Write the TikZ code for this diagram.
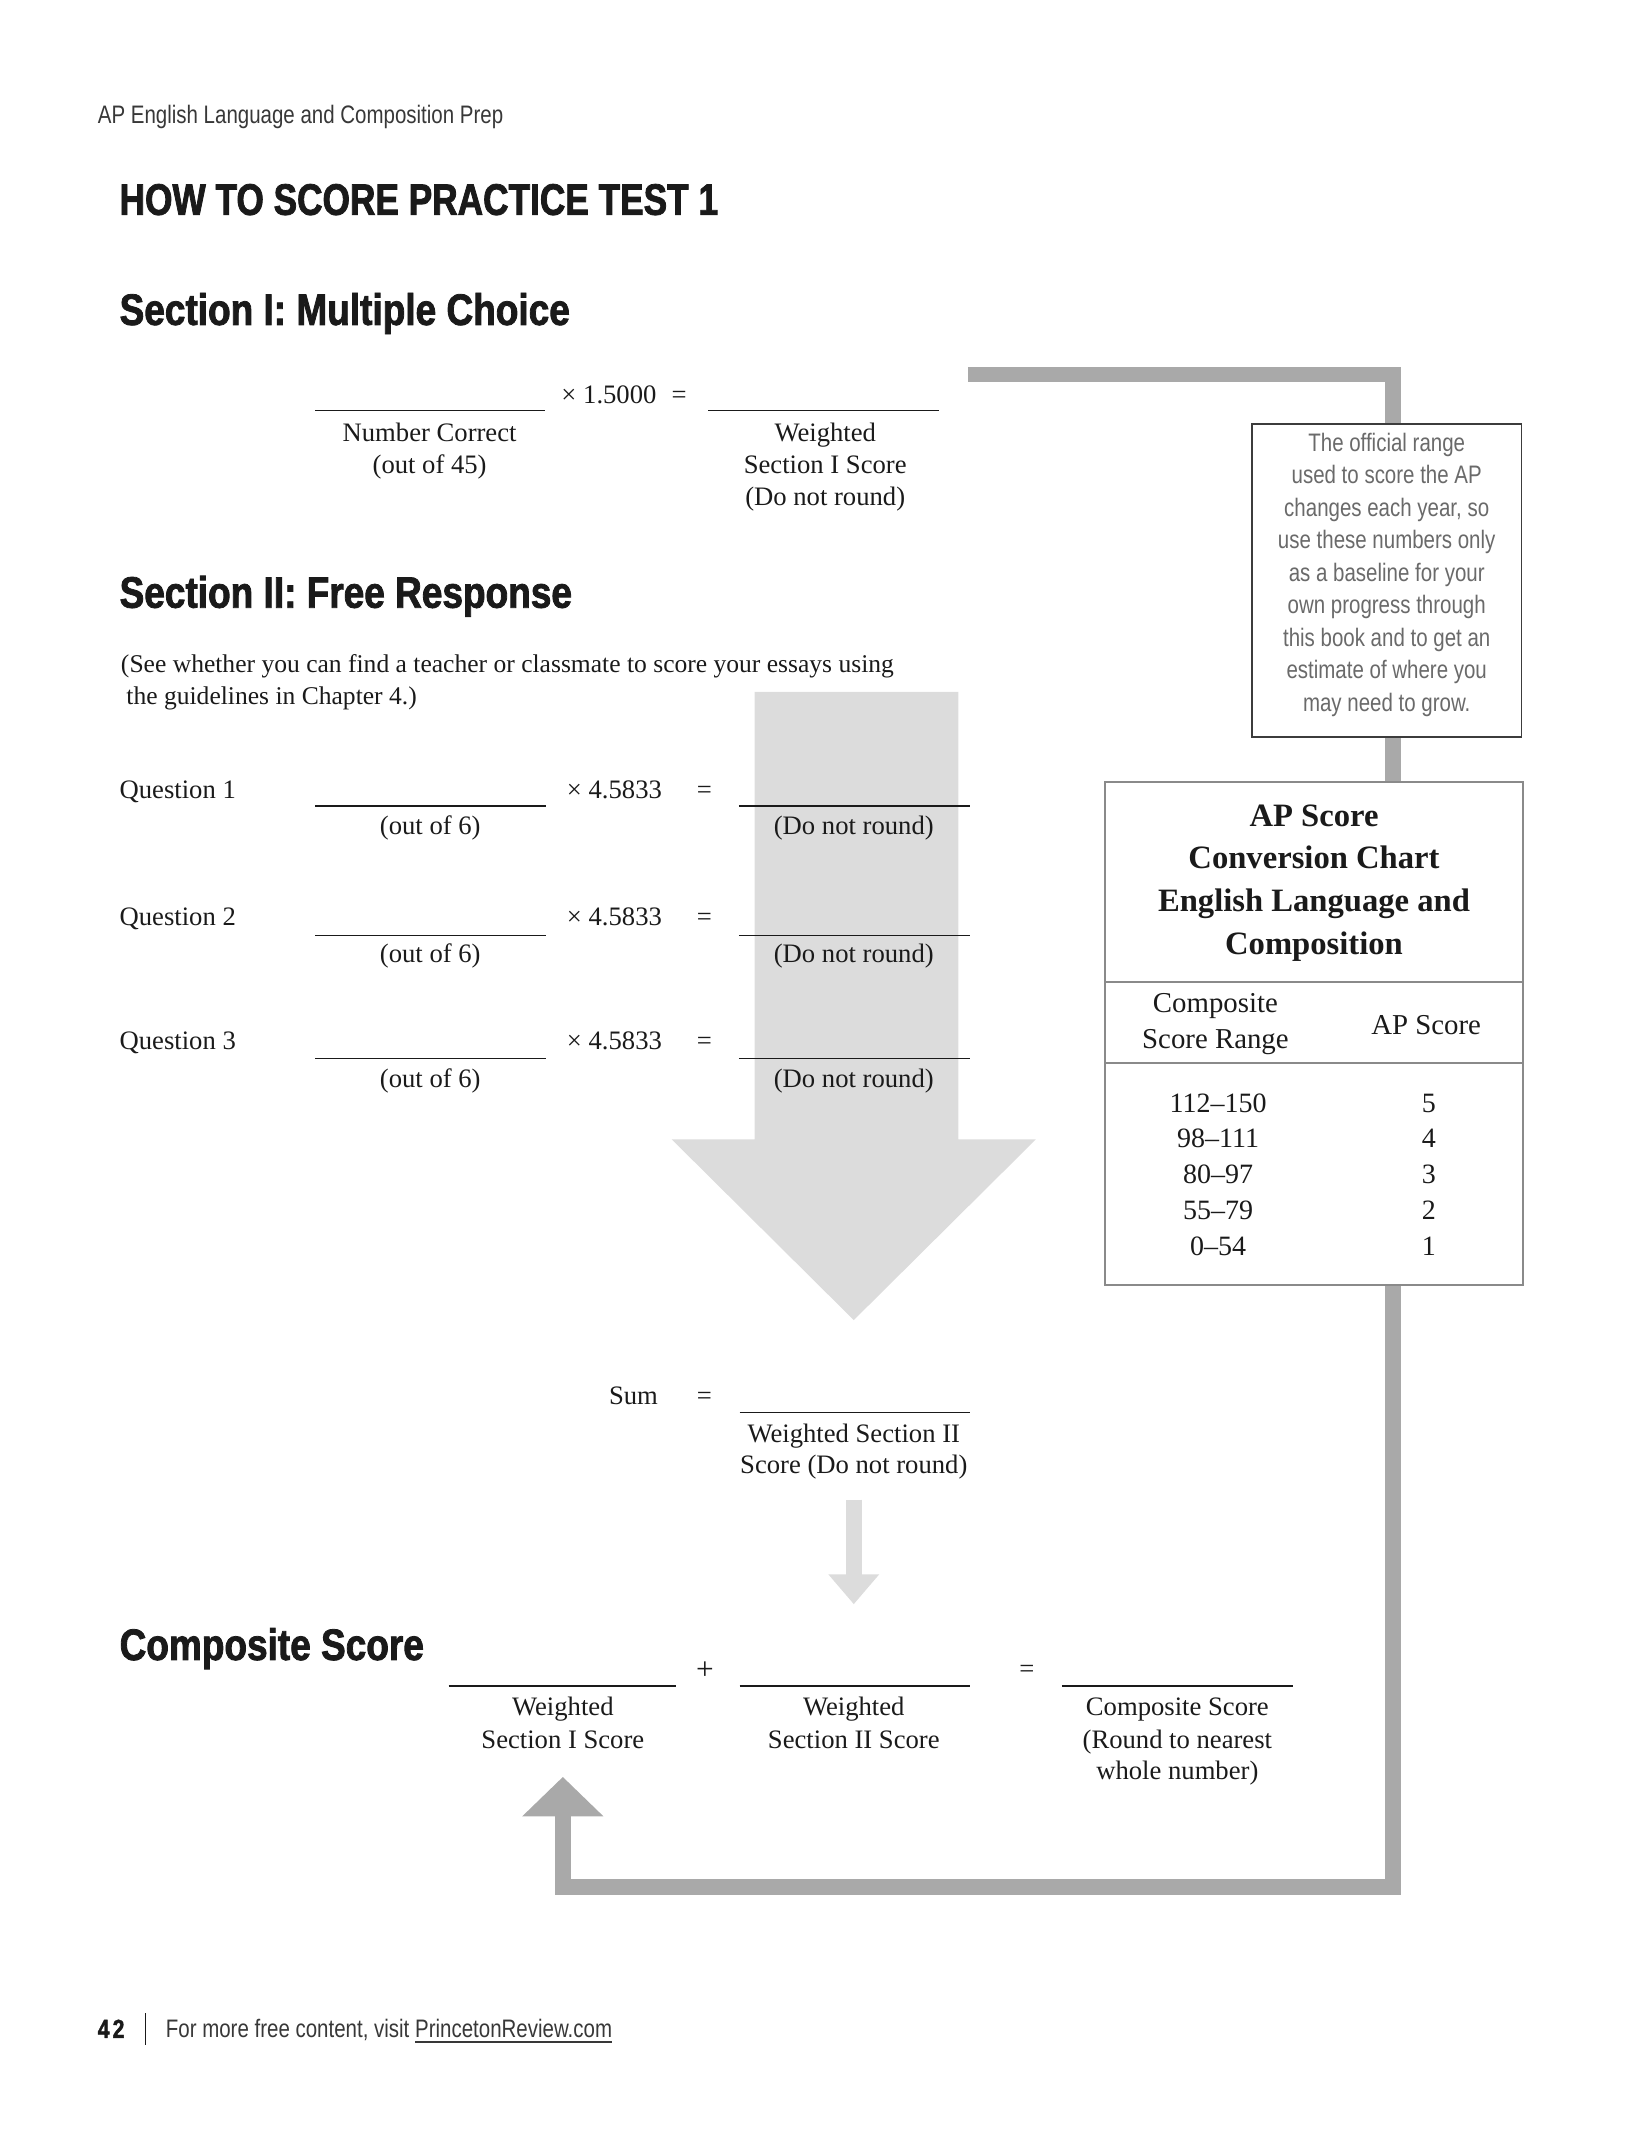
\documentclass[tikz,border=0pt]{standalone}
\usepackage{fontspec}
\setmainfont{Liberation Serif}
\newfontfamily\condsans[FakeStretch=0.81]{Liberation Sans}
\newfontfamily\headsans[FakeStretch=0.8,BoldFeatures={FakeBold=1.8}]{Liberation Sans}
\newfontfamily\subheadsans[FakeStretch=0.84,BoldFeatures={FakeBold=1.8}]{Liberation Sans}
\usetikzlibrary{arrows.meta}
\definecolor{loopgray}{HTML}{A9A9A9}
\definecolor{bigarrow}{HTML}{DCDCDC}
\definecolor{notetext}{HTML}{6A6A6A}
\definecolor{noteframe}{HTML}{3C3C3C}
\definecolor{chartframe}{HTML}{8A8A8A}
\definecolor{inkblack}{HTML}{1A1A1A}
\definecolor{runink}{HTML}{383838}
\begin{document}
\begin{tikzpicture}[x=0.5pt,y=-0.5pt,
  every node/.style={inner sep=0pt, outer sep=0pt},
  runhead/.style={font=\condsans\fontsize{9.3}{11}\selectfont, anchor=base west, text=runink},
  heading/.style={font=\subheadsans\bfseries\fontsize{16.2}{19}\selectfont, anchor=base west, text=inkblack},
  titlehead/.style={heading, font=\headsans\bfseries\fontsize{16.2}{19}\selectfont},
  txt/.style={font=\fontsize{9.8}{12}\selectfont, anchor=base, text=inkblack},
  txtw/.style={txt, anchor=base west},
  blank/.style={line width=0.55pt, draw=inkblack},
  notetxt/.style={font=\condsans\fontsize{9.3}{11}\selectfont, anchor=base, text=notetext},
  charttitle/.style={font=\bfseries\fontsize{12}{15}\selectfont, anchor=base, text=inkblack},
  charthead/.style={font=\fontsize{10.6}{13}\selectfont, anchor=base, text=inkblack},
  chartdata/.style={font=\fontsize{10.3}{13}\selectfont, anchor=base, text=inkblack},
  loopbar/.style={line width=5.75pt, draw=loopgray, line join=miter, -{Triangle[length=14.5pt,width=29pt]}},
  flowarrow/.style={line width=6pt, draw=bigarrow, -{Triangle[length=11pt,width=18pt]}},
  divider/.style={draw=chartframe, line width=0.75pt}
]
\useasboundingbox (0,0) rectangle (1206,1566);

% big light-gray arrow behind Section II results
\fill[bigarrow] (555,509) -- (705,509) -- (705,838) -- (762,838) -- (628,971)
  -- (494,838) -- (555,838) -- cycle;

% small arrow from Section II sum to composite
\coordinate (flowtop) at (628,1103);
\coordinate (flowend) at (628,1180);
\draw[flowarrow] (flowtop) -- (flowend);

% loop connector
\coordinate (loopstart) at (712,275.5);
\coordinate (loopc1) at (1024.5,275.5);
\coordinate (loopc2) at (1024.5,1388);
\coordinate (loopc3) at (414,1388);
\coordinate (looptip) at (414,1307);
\draw[loopbar] (loopstart) -- (loopc1) -- (loopc2) -- (loopc3) -- (looptip);

% note box
\node[draw=noteframe, line width=0.6pt, fill=white, minimum width=99pt, minimum height=115pt] (note) at (1020,427) {};
\foreach [count=\i] \t in {The official range, used to score the AP, {changes each year, so}, use these numbers only, as a baseline for your, own progress through, this book and to get an, estimate of where you, may need to grow.}
  \node[notetxt] (noteline\i) at ({1020},{332+23.9*(\i-1)}) {\t};

% conversion chart
\node[draw=chartframe, line width=0.75pt, fill=white, minimum width=153.5pt, minimum height=185pt] (chart) at (966.5,760) {};
\coordinate (div1) at (0,722.5);
\coordinate (div2) at (0,782);
\draw[divider] (chart.west |- div1) -- (chart.east |- div1);
\draw[divider] (chart.west |- div2) -- (chart.east |- div2);
\node[charttitle] (ct1) at (966.5,608) {AP Score};
\node[charttitle] (ct2) at (966.5,639) {Conversion Chart};
\node[charttitle] (ct3) at (966.5,670.5) {English Language and};
\node[charttitle] (ct4) at (966.5,702) {Composition};
\node[charthead] (ch1) at (894,745) {Composite};
\node[charthead] (ch2) at (894,771) {Score Range};
\node[charthead] (ch3) at (1049,761) {AP Score};
\foreach [count=\i] \r/\s in {112--150/5, 98--111/4, 80--97/3, 55--79/2, 0--54/1} {
  \node[chartdata] (range\i) at ({896},{818+26.4*(\i-1)}) {\r};
  \node[chartdata] (score\i) at ({1051},{818+26.4*(\i-1)}) {\s};
}

% headings
\node[runhead] (runninghead) at (72,91) {AP English Language and Composition Prep};
\node[titlehead] (title) at (88,158) {HOW TO SCORE PRACTICE TEST 1};
\node[heading] (s1head) at (88,239) {Section I: Multiple Choice};
\node[heading] (s2head) at (88,447) {Section II: Free Response};
\node[heading] (comphead) at (88,1221) {Composite Score};

% Section I row
\draw[blank] (232,302) -- (401,302);
\draw[blank] (521,302) -- (691,302);
\node[txtw] (mult1) at (413,297) {× 1.5000};
\node[txtw] (eq1) at (494,297) {=};
\node[txt] (nc1) at (316,325) {Number Correct};
\node[txt] (nc2) at (316,348) {(out of 45)};
\node[txt] (w1a) at (607,325) {Weighted};
\node[txt] (w1b) at (607,348) {Section I Score};
\node[txt] (w1c) at (607,372) {(Do not round)};

% Section II text
\node[txtw, font=\fontsize{9.4}{12}\selectfont] (para1) at (89,495) {(See whether you can find a teacher or classmate to score your essays using};
\node[txtw, font=\fontsize{9.4}{12}\selectfont] (para2) at (93,518) {the guidelines in Chapter 4.)};

% question rows
\foreach \q/\b/\l/\lb in {1/587/593/614, 2/681/688/708, 3/772/778.5/800} {
  \node[txtw] (q\q) at (88,\b) {Question \q};
  \draw[blank] (232,\l) -- (401.5,\l);
  \node[txtw] (qmult\q) at (417,\b) {× 4.5833};
  \node[txtw] (qeq\q) at (512.5,\b) {=};
  \draw[blank] (543.5,\l) -- (713.5,\l);
  \node[txt] (qout\q) at (316.5,\lb) {(out of 6)};
  \node[txt] (qres\q) at (628,\lb) {(Do not round)};
}

% sum row
\node[txtw] (sum) at (448,1033) {Sum};
\node[txtw] (sumeq) at (512.5,1033) {=};
\draw[blank] (544,1039) -- (713.5,1039);
\node[txt] (sumlab1) at (628,1061) {Weighted Section II};
\node[txt] (sumlab2) at (628,1084) {Score (Do not round)};

% composite row
\draw[blank] (330,1240) -- (497.5,1240);
\node[txt, font=\fontsize{11.5}{12}\selectfont] (plus) at (518.6,1235) {+};
\draw[blank] (544,1240) -- (713.5,1240);
\node[txt] (compeq) at (755.4,1234) {=};
\draw[blank] (781,1240) -- (951,1240);
\node[txt] (c1a) at (414,1262) {Weighted};
\node[txt] (c1b) at (414,1286) {Section I Score};
\node[txt] (c2a) at (628,1262) {Weighted};
\node[txt] (c2b) at (628,1286) {Section II Score};
\node[txt] (c3a) at (866,1262) {Composite Score};
\node[txt] (c3b) at (866,1286) {(Round to nearest};
\node[txt] (c3c) at (866,1309) {whole number)};

% footer
\node[runhead, font=\headsans\bfseries\fontsize{9.6}{11}\selectfont, text=inkblack] (pagenum) at (72,1499) {4\kern1.2pt 2};
\coordinate (septop) at (107,1481);
\coordinate (sepbot) at (107,1504);
\draw[line width=0.5pt, draw=inkblack] (septop) -- (sepbot);
\node[runhead] (footer) at (122,1499) {For more free content, visit \underline{PrincetonReview.com}};
\end{tikzpicture}
\end{document}
